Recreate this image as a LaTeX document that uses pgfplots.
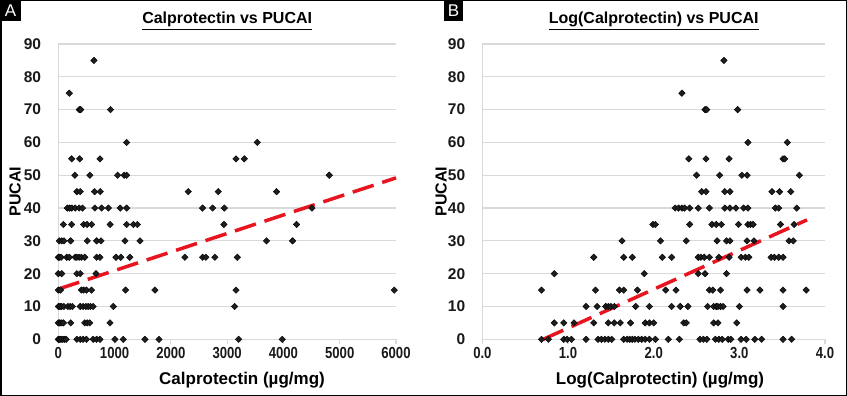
\documentclass[border=0pt]{standalone}
\usepackage{fontspec}
\setmainfont{Liberation Sans}
\newfontfamily\condensedfont{Liberation Sans}[FakeStretch=0.82]
\usepackage{pgfplots}
\usepackage{pgfplotstable}
\pgfplotsset{compat=1.18}
\definecolor{gridc}{RGB}{217,217,217}
\definecolor{trend}{RGB}{232,20,32}
\definecolor{pt}{RGB}{30,30,30}

\pgfplotstableread{
x y
633 85
195 75
373 70
397 70
929 70
1214 60
3535 60
237 55
380 55
740 55
3157 55
3305 55
296 50
562 50
1054 50
1170 50
1214 50
4814 50
330 45
390 45
645 45
745 45
2309 45
2842 45
3878 45
160 40
200 40
240 40
300 40
370 40
430 40
650 40
770 40
890 40
1100 40
1215 40
2563 40
2742 40
2949 40
4506 40
90 35
237 35
450 35
510 35
592 35
920 35
1214 35
1333 35
1404 35
2943 35
4233 35
18 30
60 30
101 30
219 30
515 30
681 30
760 30
1184 30
1451 30
3700 30
4163 30
0 25
20 25
50 25
150 25
195 25
300 25
330 25
370 25
410 25
470 25
680 25
740 25
1025 25
1110 25
1270 25
2250 25
2564 25
2623 25
2783 25
3180 25
0 20
60 20
330 20
390 20
670 20
0 15
40 15
410 15
450 15
500 15
590 15
1196 15
1717 15
3157 15
5969 15
0 10
30 10
60 10
100 10
170 10
210 10
250 10
390 10
440 10
490 10
530 10
570 10
620 10
977 10
3133 10
0 5
20 5
50 5
90 5
220 5
470 5
515 5
560 5
918 5
0 0
15 0
30 0
50 0
80 0
110 0
140 0
330 0
390 0
440 0
500 0
620 0
680 0
740 0
1006 0
1154 0
1540 0
1789 0
3204 0
3979 0
}\leftdata

\pgfplotstableread{
x y
2.82 85
2.33 75
2.60 70
2.62 70
2.98 70
3.10 60
3.56 60
2.41 55
2.61 55
2.88 55
3.51 55
3.53 55
2.50 50
2.77 50
3.03 50
3.09 50
3.70 50
2.56 45
2.61 45
2.83 45
2.89 45
3.38 45
3.47 45
3.60 45
2.25 40
2.29 40
2.33 40
2.36 40
2.42 40
2.52 40
2.65 40
2.83 40
2.89 40
2.96 40
3.05 40
3.10 40
3.42 40
3.46 40
3.67 40
1.99 35
2.02 35
2.42 35
2.68 35
2.73 35
2.79 35
2.99 35
3.10 35
3.13 35
3.16 35
3.48 35
3.64 35
1.63 30
2.08 30
2.38 30
2.74 30
2.85 30
2.89 30
3.09 30
3.17 30
3.58 30
3.63 30
1.30 25
1.65 25
1.75 25
2.10 25
2.21 25
2.52 25
2.55 25
2.59 25
2.65 25
2.76 25
2.88 25
3.02 25
3.07 25
3.11 25
3.37 25
3.41 25
3.46 25
3.51 25
0.84 20
1.89 20
2.52 20
2.60 20
2.85 20
0.69 15
1.32 15
1.60 15
1.65 15
1.81 15
2.14 15
2.26 15
2.65 15
2.69 15
2.78 15
3.09 15
3.24 15
3.51 15
3.78 15
1.21 10
1.34 10
1.44 10
1.47 10
1.50 10
1.54 10
1.79 10
1.95 10
2.21 10
2.31 10
2.40 10
2.63 10
2.70 10
2.73 10
2.75 10
2.78 10
2.81 10
3.00 10
3.51 10
0.84 5
0.95 5
1.07 5
1.30 5
1.47 5
1.54 5
1.61 5
1.73 5
1.90 5
1.95 5
2.00 5
2.35 5
2.38 5
2.70 5
2.75 5
2.97 5
0.69 0
0.77 0
0.95 0
0.99 0
1.04 0
1.21 0
1.35 0
1.39 0
1.43 0
1.47 0
1.51 0
1.65 0
1.69 0
1.72 0
1.75 0
1.78 0
1.82 0
1.86 0
1.90 0
1.95 0
2.02 0
2.17 0
2.30 0
2.54 0
2.58 0
2.62 0
2.72 0
2.76 0
2.80 0
2.87 0
2.90 0
3.02 0
3.08 0
3.18 0
3.26 0
3.51 0
3.61 0
}\rightdata

\pgfplotsset{
 panel/.style={
  scale only axis, height=295.3bp,
  ymin=0, ymax=90, ytick={0,10,...,90},
  axis x line*=bottom, axis y line*=left,
  axis line style={draw=gridc, line width=1.2bp},
  ymajorgrids, grid style={draw=gridc, line width=1.2bp},
  tick align=outside, major tick length=5bp,
  xtick style={draw=gridc, line width=1.2bp},
  ytick style={draw=none},
  /pgf/number format/assume math mode=true,
  yticklabel style={inner sep=0pt, xshift=-12bp,
    font=\bfseries\fontsize{15.5bp}{17bp}\selectfont, text=black!90},
  xticklabel style={inner sep=0pt, yshift=-3bp,
    font=\condensedfont\bfseries\fontsize{16bp}{18bp}\selectfont, text=black!90},
  clip=false,
 },
 dots/.style={only marks, mark=square*, mark size=2.3bp,
   mark options={rotate=45, draw=none, fill=pt}},
 trendline/.style={trend, line width=3.5bp, dash pattern=on 22bp off 9bp, no marks},
}

\begin{document}
\begin{tikzpicture}
\useasboundingbox (0bp,0bp) rectangle (847bp,396bp);
\draw[line width=1.5bp] (0.75bp,0.75bp) rectangle (846.25bp,395.25bp);

\begin{axis}[panel, at={(58.3bp,56.7bp)}, anchor=south west, width=337.7bp,
  xmin=0, xmax=6000, xtick={0,1000,...,6000},
  xticklabel style={/pgf/number format/1000 sep={}}]
\addplot[dots] table[x=x,y=y]{\leftdata};
\addplot[trendline] coordinates {(0,15.3) (6000,49.2)};
\end{axis}

\begin{axis}[panel, at={(482.4bp,56.7bp)}, anchor=south west, width=342.6bp,
  xmin=0, xmax=4, xtick={0,1,...,4},
  xticklabel style={/pgf/number format/.cd, fixed, fixed zerofill, precision=1}]
\addplot[dots] table[x=x,y=y]{\rightdata};
\addplot[trendline] coordinates {(0.71,0) (3.79,36.4)};
\end{axis}

% panel letters
\fill (0bp,375bp) rectangle (21bp,396bp);
\node[white, font=\fontsize{17bp}{17bp}\selectfont] at (10.5bp,385.5bp) {A};
\fill (444bp,375bp) rectangle (463bp,396bp);
\node[white, font=\fontsize{17bp}{17bp}\selectfont] at (453.5bp,385.5bp) {B};

% titles
\node[anchor=base, font=\bfseries\fontsize{16bp}{18bp}\selectfont] at (227.2bp,372bp) {\underline{Calprotectin vs PUCAI}};
\node[anchor=base, font=\bfseries\fontsize{16bp}{18bp}\selectfont] at (653.7bp,372bp) {\underline{Log(Calprotectin) vs PUCAI}};

% axis labels
\node[rotate=90, font=\bfseries\fontsize{16bp}{18bp}\selectfont] at (15bp,204.4bp) {PUCAI};
\node[rotate=90, font=\bfseries\fontsize{16bp}{18bp}\selectfont] at (441bp,204.4bp) {PUCAI};
\node[anchor=base, font=\bfseries\fontsize{17bp}{19bp}\selectfont] at (242bp,12bp) {Calprotectin (µg/mg)};
\node[anchor=base, font=\bfseries\fontsize{17bp}{19bp}\selectfont] at (660bp,12bp) {Log(Calprotectin) (µg/mg)};
\end{tikzpicture}
\end{document}
